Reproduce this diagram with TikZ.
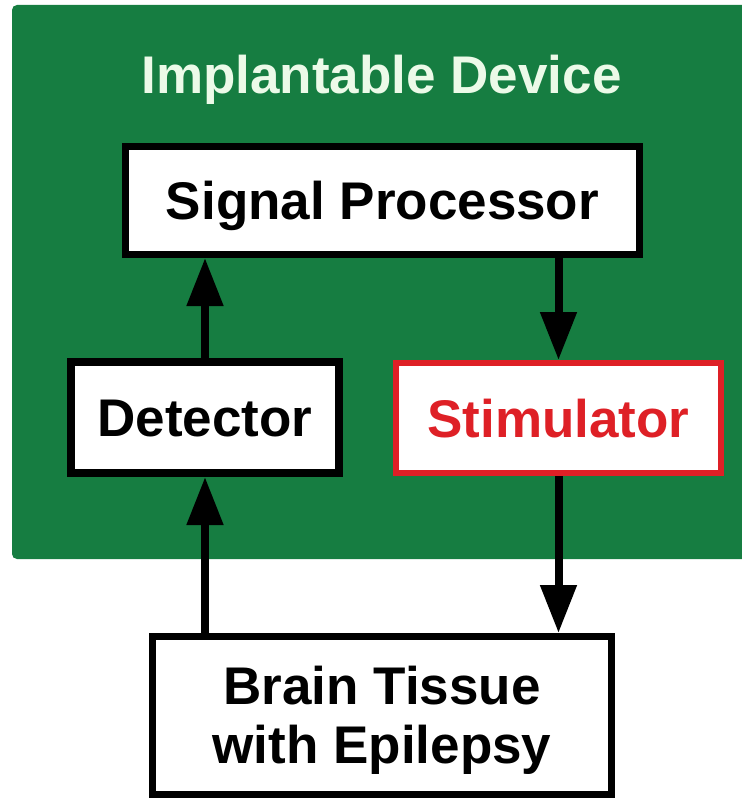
\documentclass[tikz,border=0pt]{standalone}
\usepackage{fontspec}
\setmainfont{Liberation Sans}
\usetikzlibrary{arrows.meta}
\definecolor{devgreen}{RGB}{22,125,65}
\definecolor{titlecol}{RGB}{236,250,232}
\definecolor{stimred}{RGB}{222,32,38}
\tikzset{
  blockbox/.style={draw=black, fill=white, line width=7bp, rectangle, inner sep=0pt,
    font=\fontsize{53bp}{59bp}\selectfont\bfseries, text height=38bp, text depth=0bp},
  redbox/.style={blockbox, draw=stimred, line width=6bp, text=stimred},
  arr/.style={line width=8bp, -{Triangle[width=35bp,length=48bp]}}
}
\begin{document}
\begin{tikzpicture}[x=1bp, y=-1bp]
\useasboundingbox (0,0) rectangle (742,798);
\clip (0,0) rectangle (742,798);
% device background
\fill[devgreen, rounded corners=5bp] (12,5) rectangle (760,559);
\node[anchor=base, text=titlecol, font=\fontsize{53bp}{59bp}\selectfont\bfseries] (title) at (381.5,93) {Implantable Device};
% blocks
\node[blockbox, minimum width=514bp, minimum height=108bp] (sp) at (382.5,200.5) {Signal Processor};
\node[blockbox, line width=8bp, minimum width=268bp, minimum height=111bp] (det) at (205,417.5) {Detector};
\node[redbox, minimum width=325bp, minimum height=110bp] (stim) at (558.5,418) {Stimulator};
\node[blockbox, align=center, text height=, text depth=-2bp, minimum width=459bp, minimum height=157.5bp] (brain) at (382,715.25) {Brain Tissue\\with Epilepsy};
% connectors
\draw[arr] (det.north) -- (det.north |- sp.south);
\draw[arr] (stim.north |- sp.south) -- (stim.north);
\draw[arr] (det.south |- brain.north) -- (det.south);
\draw[arr] (stim.south) -- (stim.south |- brain.north);
\end{tikzpicture}
\end{document}
